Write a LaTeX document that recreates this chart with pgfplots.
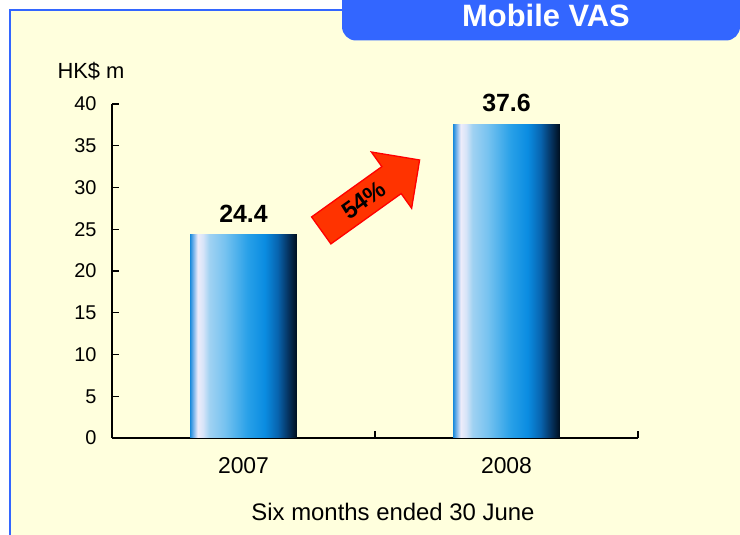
\documentclass[border=0pt]{standalone}
\usepackage{pgfplots}
\pgfplotsset{compat=1.18}
\usepackage{fontspec}
\setmainfont{Liberation Sans}
\usetikzlibrary{shapes.arrows}
\definecolor{bg}{RGB}{255,255,221}
\definecolor{tabblue}{RGB}{51,102,255}
\definecolor{arrowfill}{RGB}{255,51,0}
\definecolor{sa}{RGB}{30,140,220}
\definecolor{sb}{RGB}{120,180,235}
\definecolor{sc}{RGB}{238,236,250}
\definecolor{sd}{RGB}{215,228,248}
\definecolor{se}{RGB}{160,210,242}
\definecolor{sf}{RGB}{120,195,240}
\definecolor{sg}{RGB}{40,160,232}
\definecolor{sh}{RGB}{10,140,225}
\definecolor{si}{RGB}{8,100,175}
\definecolor{sj}{RGB}{5,50,95}
\definecolor{sk}{RGB}{0,15,30}
\pgfdeclarehorizontalshading{barshade}{100bp}{color(0bp)=(sa); color(25bp)=(sa); color(26.5bp)=(sb); color(28.5bp)=(sc); color(31bp)=(sd); color(34bp)=(se); color(41bp)=(sf); color(52bp)=(sg); color(60bp)=(sh); color(66bp)=(si); color(71bp)=(sj); color(75bp)=(sk); color(100bp)=(sk)}
\begin{document}
\begin{tikzpicture}
\useasboundingbox (0,0) rectangle (740bp,535bp);
\fill[white] (0,0) rectangle (740bp,535bp);
\fill[bg] (9bp,0) rectangle (740bp,525bp);
\draw[tabblue, line width=2bp] (9.5bp,0) -- (9.5bp,525bp) -- (345bp,525bp);
\fill[tabblue] (342bp,535bp) -- (342bp,508.5bp) arc[start angle=180, end angle=270, radius=14bp] -- (726bp,494.5bp) arc[start angle=270, end angle=360, radius=14bp] -- (740bp,535bp) -- cycle;
\node[anchor=base, text=white, font=\bfseries\fontsize{31}{36}\selectfont, inner sep=0] at (546bp,508.3bp) {Mobile VAS};
\node[font=\fontsize{22}{26}\selectfont, inner sep=0] at (91bp,464bp) {HK\$ m};
\node[font=\fontsize{24}{28}\selectfont, inner sep=0] at (393bp,23bp) {Six months ended 30 June};
\begin{axis}[
  at={(112bp,97bp)}, anchor=south west,
  scale only axis, width=526bp, height=334bp,
  xmin=-0.5, xmax=1.5, ymin=0, ymax=40,
  axis x line*=bottom, axis y line*=left,
  axis line style={line width=1.3bp, black, -},
  tick style={line width=1.3bp, black},
  tick align=inside, major tick length=7bp,
  xtick={-0.5,0.5,1.5}, xticklabels={},
  extra x ticks={0,1}, extra x tick labels={2007,2008},
  extra x tick style={major tick length=0pt, tick label style={font=\fontsize{23}{27}\selectfont, yshift=-16bp}},
  ytick={0,5,...,40},
  y tick label style={font=\fontsize{20}{24}\selectfont, xshift=-12bp},
  /pgf/number format/assume math mode=true,
  clip=false,
]
\addplot[ybar, bar shift=0pt, bar width=0.405, draw=none, shading=barshade] coordinates {(0,24.4)};
\addplot[ybar, bar shift=0pt, bar width=0.405, draw=none, shading=barshade] coordinates {(1,37.6)};
\addplot[draw=none, nodes near coords, nodes near coords style={font=\bfseries\fontsize{25}{30}\selectfont, inner sep=0, anchor=south, yshift=12bp, text=black}] coordinates {(0,24.4) (1,37.6)};
\node[single arrow, draw=red, fill=arrowfill, line width=1.3bp, rotate=35.6, minimum height=121bp, single arrow head extend=18bp, inner ysep=7.5bp, inner xsep=3bp, font=\bfseries\fontsize{24}{28}\selectfont] at (axis cs:0.457,28.5) {54\%};
\end{axis}
\end{tikzpicture}
\end{document}
